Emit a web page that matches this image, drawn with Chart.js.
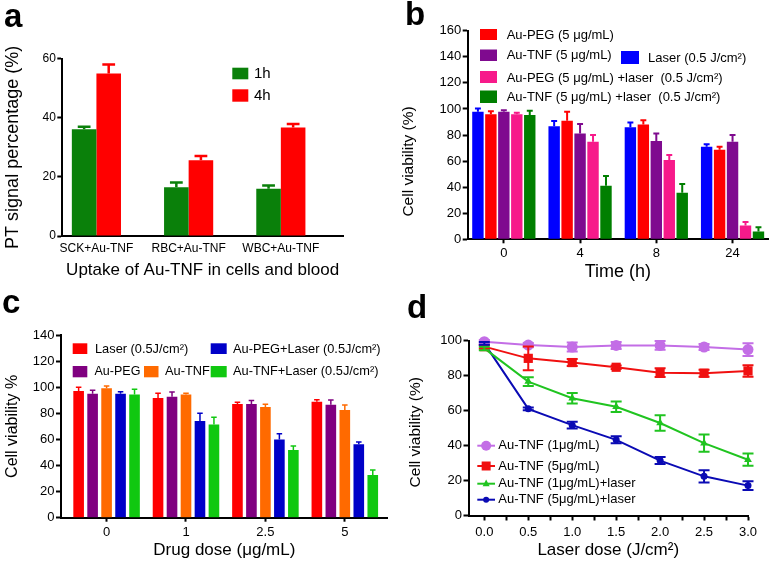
<!DOCTYPE html>
<html>
<head>
<meta charset="utf-8">
<script src="https://cdn.jsdelivr.net/npm/chart.js@4.4.1/dist/chart.umd.min.js"></script>
<style>
  html, body { margin: 0; padding: 0; background: #fff; }
  #wrap { position: relative; width: 776px; height: 562px; overflow: hidden; }
  canvas { position: absolute; }
</style>
</head>
<body>
<div id="wrap">
  <canvas id="pa" width="390" height="292" style="left:0px;top:0px"></canvas>
  <canvas id="pb" width="386" height="292" style="left:390px;top:0px"></canvas>
  <canvas id="pc" width="390" height="282" style="left:0px;top:280px"></canvas>
  <canvas id="pd" width="386" height="282" style="left:390px;top:280px"></canvas>
</div>
<script>
// ---- data ----
// panel a
const aCategories = ["SCK+Au-TNF", "RBC+Au-TNF", "WBC+Au-TNF"];
const a1h = [36.1, 16.5, 16.0];
const a1hErr = [0.9, 1.6, 1.1];
const a4h = [55.0, 25.6, 36.7];
const a4hErr = [3.0, 1.5, 1.2];

// panel b
const bTimes = ["0", "4", "8", "24"];
const bLaser = [97.8, 86.8, 86.0, 71.0];
const bLaserErr = [2.6, 3.9, 3.6, 2.0];
const bPeg = [96.0, 90.9, 88.1, 68.7];
const bPegErr = [2.3, 6.9, 3.3, 2.3];
const bTnf = [97.8, 81.2, 75.4, 74.8];
const bTnfErr = [1.2, 7.2, 5.8, 5.2];
const bPegLaser = [96.0, 74.8, 60.8, 10.5];
const bPegLaserErr = [1.0, 5.2, 3.8, 2.8];
const bTnfLaser = [95.3, 41.1, 35.8, 5.9];
const bTnfLaserErr = [3.3, 7.4, 6.6, 3.3];

// panel c
const cDoses = ["0", "1", "2.5", "5"];
const cLaser = [97.1, 91.7, 87.1, 88.9];
const cLaserErr = [2.8, 3.6, 1.3, 1.5];
const cPeg = [95.0, 92.7, 87.1, 86.6];
const cPegErr = [2.6, 3.6, 2.8, 3.6];
const cTnf = [99.1, 94.5, 84.8, 82.5];
const cTnfErr = [1.8, 0.8, 2.1, 3.9];
const cPegLaser = [95.0, 74.1, 60.0, 56.2];
const cPegLaserErr = [1.6, 5.9, 4.4, 1.8];
const cTnfLaser = [94.5, 71.5, 51.9, 32.7];
const cTnfLaserErr = [3.9, 5.4, 3.0, 3.8];

// panel d
const dDoses = [0, 0.5, 1.0, 1.5, 2.0, 2.5, 3.0];
const dMinorTicks = [0.25, 0.75, 1.25, 1.75, 2.25, 2.75];
const dTnf1 = [99.4, 97.5, 96.4, 97.3, 97.3, 96.4, 94.9];
const dTnf1Err = [1.0, 1.2, 2.6, 2.0, 2.5, 1.7, 3.7];
const dTnf5 = [96.6, 89.9, 87.5, 84.8, 81.7, 81.4, 82.7];
const dTnf5Err = [1.0, 6.8, 2.0, 1.0, 2.5, 2.0, 3.3];
const dTnf1Laser = [95.6, 76.6, 67.1, 62.2, 52.9, 41.4, 31.9];
const dTnf1LaserErr = [1.0, 2.5, 3.0, 3.0, 4.4, 5.0, 3.5];
const dTnf5Laser = [98.5, 61.0, 51.7, 43.3, 31.4, 22.4, 17.1];
const dTnf5LaserErr = [0.8, 0.8, 2.0, 2.0, 2.0, 3.5, 2.5];

const FONT = '"Liberation Sans", Arial, Helvetica, sans-serif';
Chart.defaults.font.family = FONT;
Chart.defaults.color = "#000";

// colours
const A_GREEN = "#0a800a", A_RED = "#ff0000";
const B_BLUE = "#0000ff", B_RED = "#ff0000", B_PURPLE = "#7f0a8f", B_PINK = "#f71a8a", B_GREEN = "#007f00";
const C_RED = "#ff0000", C_PURPLE = "#800080", C_ORANGE = "#ff6a00", C_BLUE = "#0000c8", C_GREEN = "#10c810";
const D_PURPLE = "#c36ee6", D_RED = "#f01010", D_GREEN = "#20c420", D_BLUE = "#0a0ab4";

// bars sit on integer slots of a linear index axis
const barData = vals => vals.map((v, i) => ({ x: i, y: v }));
const lineData = vals => vals.map((v, i) => ({ x: dDoses[i], y: v }));

// error bars drawn from each dataset's errors array
const errorBars = {
  id: "errorBars",
  afterDatasetsDraw(chart) {
    const ctx = chart.ctx;
    const y = chart.scales.y;
    chart.data.datasets.forEach((ds, i) => {
      if (!ds.errors) return;
      const meta = chart.getDatasetMeta(i);
      ctx.save();
      ctx.strokeStyle = ds.errColor || ds.backgroundColor;
      ctx.lineWidth = ds.errWidth || 2;
      meta.data.forEach((el, j) => {
        const v = ds.data[j].y;
        const e = ds.errors[j];
        const hi = y.getPixelForValue(v + e);
        const lo = ds.errBoth ? y.getPixelForValue(v - e) : el.y;
        const half = (ds.capPx || el.width * 0.52) / 2;
        ctx.beginPath();
        ctx.moveTo(el.x, lo);
        ctx.lineTo(el.x, hi);
        ctx.moveTo(el.x - half, hi);
        ctx.lineTo(el.x + half, hi);
        if (ds.errBoth) {
          ctx.moveTo(el.x - half, lo);
          ctx.lineTo(el.x + half, lo);
        }
        ctx.stroke();
      });
      ctx.restore();
    });
  }
};

function marker(ctx, style, x, y, r, color) {
  ctx.fillStyle = color;
  ctx.beginPath();
  if (style === "rect") {
    ctx.rect(x - r, y - r, 2 * r, 2 * r);
  } else if (style === "triangle") {
    ctx.moveTo(x, y - r * 1.2);
    ctx.lineTo(x + r, y + r * 0.7);
    ctx.lineTo(x - r, y + r * 0.7);
    ctx.closePath();
  } else {
    ctx.arc(x, y, r, 0, Math.PI * 2);
  }
  ctx.fill();
}

// panel letter + hand placed legend (+ optional rotated axis title)
function decor(letter, lx, ly, items, vTitle) {
  return {
    id: "decor",
    afterDraw(chart) {
      const ctx = chart.ctx;
      ctx.save();
      ctx.fillStyle = "#000";
      ctx.font = "bold 33px " + FONT;
      ctx.textBaseline = "alphabetic";
      ctx.fillText(letter, lx, ly);
      ctx.textBaseline = "middle";
      items.forEach(it => {
        if (it.box) {
          ctx.fillStyle = it.color;
          ctx.fillRect(it.box[0], it.box[1], it.box[2], it.box[3]);
        }
        if (it.line) {
          ctx.strokeStyle = it.color;
          ctx.lineWidth = 2;
          ctx.beginPath();
          ctx.moveTo(it.line[0], it.ty);
          ctx.lineTo(it.line[1], it.ty);
          ctx.stroke();
          marker(ctx, it.pt, (it.line[0] + it.line[1]) / 2, it.ty, it.r, it.color);
        }
        ctx.fillStyle = "#000";
        ctx.font = (it.size || 13) + "px " + FONT;
        ctx.fillText(it.text, it.tx, it.ty);
      });
      if (vTitle) {
        ctx.translate(vTitle.x, vTitle.y);
        ctx.rotate(-Math.PI / 2);
        ctx.textAlign = "center";
        ctx.font = vTitle.size + "px " + FONT;
        ctx.fillText(vTitle.text, 0, 0);
      }
      ctx.restore();
    }
  };
}

function yAxis(max, width, title, titleSize, titlePad, tickSize) {
  return {
    min: 0,
    max: max,
    ticks: { stepSize: 20, font: { size: tickSize }, color: "#000", padding: 1.5 },
    grid: { drawOnChartArea: false, tickLength: 5, tickWidth: 2, tickColor: "#000" },
    border: { color: "#000", width: 2 },
    title: { display: !!title, text: title, color: "#000", font: { size: titleSize }, padding: { top: titlePad, bottom: 0 } },
    afterFit: s => { s.width = width; }
  };
}

function xAxis(o) {
  return {
    type: "linear",
    offset: false,
    min: o.min,
    max: o.max,
    afterBuildTicks: s => { s.ticks = o.at.map(v => ({ value: v })); },
    ticks: { autoSkip: false, maxRotation: 0, font: { size: o.tickSize }, color: "#000", padding: o.tickPad, callback: o.label },
    grid: { offset: false, drawOnChartArea: false, drawTicks: o.tickLen > 0, tickLength: o.tickLen, tickWidth: 2, tickColor: "#000" },
    border: { color: "#000", width: 2 },
    title: { display: true, text: o.title, color: "#000", font: { size: o.titleSize }, padding: { top: 0, bottom: o.titlePad } },
    afterFit: s => { s.height = o.height; }
  };
}

const common = {
  responsive: false,
  animation: false,
  events: [],
  plugins: { legend: { display: false }, tooltip: { enabled: false } }
};

// ---- panel a ----
new Chart(document.getElementById("pa"), {
  type: "bar",
  data: {
    datasets: [
      { label: "1h", data: barData(a1h), errors: a1hErr, backgroundColor: A_GREEN, errWidth: 2.5 },
      { label: "4h", data: barData(a4h), errors: a4hErr, backgroundColor: A_RED, errWidth: 2.5 }
    ]
  },
  options: {
    ...common,
    layout: { padding: { top: 58.7, right: 47, left: 0, bottom: 0 } },
    datasets: { bar: { categoryPercentage: 0.533, barPercentage: 1 } },
    scales: {
      x: xAxis({ min: -0.37, max: 2.674, at: [0, 1, 2], label: v => aCategories[v], tickSize: 12, tickPad: 5.5,
                 tickLen: 0, title: "Uptake of Au-TNF in cells and blood", titleSize: 17, titlePad: 11.3, height: 56 }),
      y: yAxis(60, 62.3, "PT signal percentage (%)", 18, 2, 12)
    }
  },
  plugins: [errorBars, decor("a", 4, 26.7, [
    { box: [232.3, 67.7, 16, 11.6], color: A_GREEN, text: "1h", tx: 254, ty: 73.5, size: 15 },
    { box: [232.3, 89.3, 16, 12.4], color: A_RED, text: "4h", tx: 254, ty: 95.5, size: 15 }
  ])]
});

// ---- panel b ----
new Chart(document.getElementById("pb"), {
  type: "bar",
  data: {
    datasets: [
      { label: "Laser (0.5 J/cm²)", data: barData(bLaser), errors: bLaserErr, backgroundColor: B_BLUE },
      { label: "Au-PEG (5 μg/mL)", data: barData(bPeg), errors: bPegErr, backgroundColor: B_RED },
      { label: "Au-TNF (5 μg/mL)", data: barData(bTnf), errors: bTnfErr, backgroundColor: B_PURPLE },
      { label: "Au-PEG (5 μg/mL) +laser  (0.5 J/cm²)", data: barData(bPegLaser), errors: bPegLaserErr, backgroundColor: B_PINK },
      { label: "Au-TNF (5 μg/mL) +laser  (0.5 J/cm²)", data: barData(bTnfLaser), errors: bTnfLaserErr, backgroundColor: B_GREEN }
    ]
  },
  options: {
    ...common,
    layout: { padding: { top: 30.7, right: 8, left: 0, bottom: 0 } },
    datasets: { bar: { categoryPercentage: 0.85, barPercentage: 0.88 } },
    scales: {
      x: xAxis({ min: -0.474, max: 3.465, at: [0, 1, 2, 3], label: v => bTimes[v], tickSize: 13, tickPad: 2,
                 tickLen: 4, title: "Time (h)", titleSize: 18, titlePad: 8.9, height: 52.7 }),
      y: yAxis(160, 77.7, "", 15, 0, 13)
    }
  },
  plugins: [errorBars, decor("b", 15, 25, [
    { box: [90, 29, 17, 11], color: B_RED, text: "Au-PEG (5 μg/mL)", tx: 116.7, ty: 35 },
    { box: [90, 49.5, 17, 11.5], color: B_PURPLE, text: "Au-TNF (5 μg/mL)", tx: 116.7, ty: 55.5 },
    { box: [231, 51, 18, 13], color: B_BLUE, text: "Laser (0.5 J/cm²)", tx: 258, ty: 58 },
    { box: [90, 71, 17, 12], color: B_PINK, text: "Au-PEG (5 μg/mL) +laser  (0.5 J/cm²)", tx: 116.7, ty: 78 },
    { box: [90, 90.5, 17, 12.5], color: B_GREEN, text: "Au-TNF (5 μg/mL) +laser  (0.5 J/cm²)", tx: 116.7, ty: 97.5 }
  ], { text: "Cell viability (%)", x: 19, y: 161.5, size: 15.5 })]
});

// ---- panel c ----
new Chart(document.getElementById("pc"), {
  type: "bar",
  data: {
    datasets: [
      { label: "Laser (0.5J/cm²)", data: barData(cLaser), errors: cLaserErr, backgroundColor: C_RED, errWidth: 1.5 },
      { label: "Au-PEG", data: barData(cPeg), errors: cPegErr, backgroundColor: C_PURPLE, errWidth: 1.5 },
      { label: "Au-TNF", data: barData(cTnf), errors: cTnfErr, backgroundColor: C_ORANGE, errWidth: 1.5 },
      { label: "Au-PEG+Laser (0.5J/cm²)", data: barData(cPegLaser), errors: cPegLaserErr, backgroundColor: C_BLUE, errWidth: 1.5 },
      { label: "Au-TNF+Laser (0.5J/cm²)", data: barData(cTnfLaser), errors: cTnfLaserErr, backgroundColor: C_GREEN, errWidth: 1.5 }
    ]
  },
  options: {
    ...common,
    layout: { padding: { top: 55, right: 2.3, left: 0, bottom: 0 } },
    datasets: { bar: { categoryPercentage: 0.88, barPercentage: 0.76 } },
    scales: {
      x: xAxis({ min: -0.574, max: 3.54, at: [0, 1, 2, 3], label: v => cDoses[v], tickSize: 13, tickPad: 3,
                 tickLen: 4, title: "Drug dose (μg/mL)", titleSize: 17, titlePad: 1.6, height: 44.3 }),
      y: yAxis(140, 61, "Cell viability %", 16, 3, 13)
    }
  },
  plugins: [errorBars, decor("c", 2, 33, [
    { box: [72.7, 63.3, 14.6, 10.7], color: C_RED, text: "Laser (0.5J/cm²)", tx: 95, ty: 69, size: 12.8 },
    { box: [210.7, 63.3, 16, 10.7], color: C_BLUE, text: "Au-PEG+Laser (0.5J/cm²)", tx: 233, ty: 69, size: 12.8 },
    { box: [72.7, 86, 14.6, 11.3], color: C_PURPLE, text: "Au-PEG", tx: 94.5, ty: 91.7, size: 12.5 },
    { box: [144, 86, 14.5, 11.3], color: C_ORANGE, text: "Au-TNF", tx: 165, ty: 91.7, size: 12.8 },
    { box: [210.7, 86, 16, 11.3], color: C_GREEN, text: "Au-TNF+Laser (0.5J/cm²)", tx: 233, ty: 91.7, size: 12.8 }
  ])]
});

// ---- panel d ----
const dLine = (label, vals, errs, color, pt, r) => ({
  label, data: lineData(vals), errors: errs, errBoth: true, capPx: 11, errColor: color,
  borderColor: color, backgroundColor: color, borderWidth: 2, tension: 0,
  pointStyle: pt, pointRadius: r, pointBorderWidth: 0, clip: false
});

new Chart(document.getElementById("pd"), {
  type: "line",
  data: {
    datasets: [
      dLine("Au-TNF (1μg/mL)", dTnf1, dTnf1Err, D_PURPLE, "circle", 5.5),
      dLine("Au-TNF (5μg/mL)", dTnf5, dTnf5Err, D_RED, "rect", 6.5),
      dLine("Au-TNF (1μg/mL)+laser", dTnf1Laser, dTnf1LaserErr, D_GREEN, "triangle", 4.5),
      dLine("Au-TNF (5μg/mL)+laser", dTnf5Laser, dTnf5LaserErr, D_BLUE, "circle", 3.5)
    ]
  },
  options: {
    ...common,
    layout: { padding: { top: 60.7, right: 28, left: 0, bottom: 0 } },
    scales: {
      x: xAxis({ min: -0.18, max: 3.0, at: dDoses.concat(dMinorTicks).sort((p, q) => p - q),
                 label: v => (dDoses.includes(v) ? v.toFixed(1) : ""), tickSize: 13, tickPad: 3.8,
                 tickLen: 5, title: "Laser dose (J/cm²)", titleSize: 17, titlePad: 1.6, height: 46.5 }),
      y: yAxis(100, 78.5, "", 15, 0, 13)
    }
  },
  plugins: [errorBars, decor("d", 17, 38, [
    { line: [87.3, 105], pt: "circle", r: 5, color: D_PURPLE, text: "Au-TNF (1μg/mL)", tx: 108.3, ty: 165.7 },
    { line: [87.3, 105], pt: "rect", r: 4.5, color: D_RED, text: "Au-TNF (5μg/mL)", tx: 108.3, ty: 186 },
    { line: [87.3, 105], pt: "triangle", r: 3.5, color: D_GREEN, text: "Au-TNF (1μg/mL)+laser", tx: 108.3, ty: 203.7 },
    { line: [87.3, 105], pt: "circle", r: 3, color: D_BLUE, text: "Au-TNF (5μg/mL)+laser", tx: 108.3, ty: 219.7 }
  ], { text: "Cell viability (%)", x: 25.5, y: 152.3, size: 15.5 })]
});
</script>
</body>
</html>
